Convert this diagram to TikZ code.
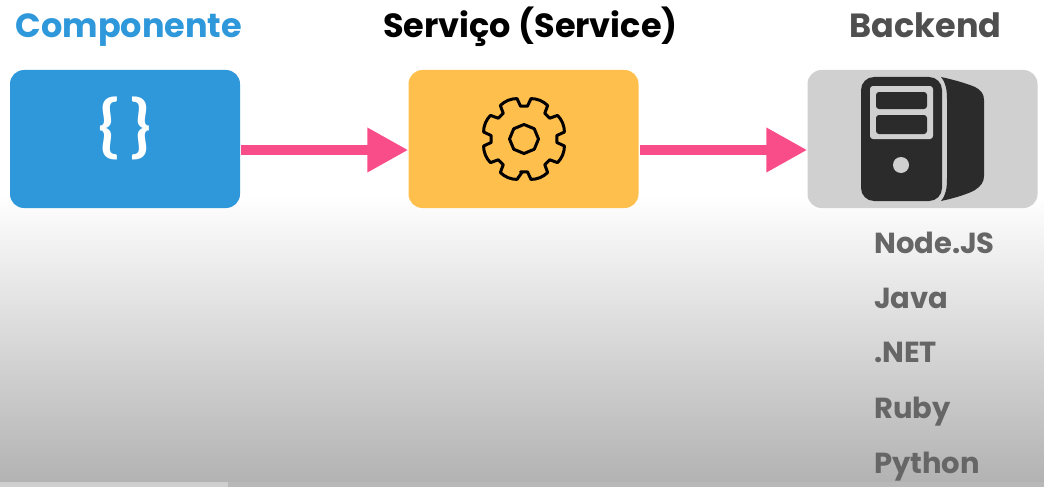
\documentclass[tikz,border=0pt]{standalone}
\usepackage{fontspec}
\setmainfont{Poppins}
\newfontfamily\bracefont{Lato}
\usetikzlibrary{arrows.meta}
\definecolor{blueC}{HTML}{2E98DB}
\definecolor{yellowC}{HTML}{FFBF4C}
\definecolor{greyC}{HTML}{D0D0D0}
\definecolor{pinkC}{HTML}{F94D8A}
\definecolor{darkC}{HTML}{2B2B2B}
\definecolor{titleC}{HTML}{4F4F4F}
\definecolor{listC}{HTML}{666666}
\tikzset{
  box/.style={rounded corners=14pt,minimum width=230pt,minimum height=138pt,inner sep=0pt,fill=#1},
  title/.style={anchor=base,font=\fontsize{33.5}{34}\selectfont\bfseries,inner sep=0pt},
  lang/.style={anchor=base west,font=\fontsize{29}{30}\selectfont\bfseries,text=listC,inner sep=0pt},
  conn/.style={draw=pinkC,line width=10pt,-{Triangle[length=41pt,width=42pt]},shorten <=1pt},
}
\begin{document}
\begin{tikzpicture}[x=1pt,y=-1pt]
\useasboundingbox (0,0) rectangle (1044,487);
\fill[white] (0,0) rectangle (1044,196);
\shade[top color=white,bottom color=black!30] (0,195) rectangle (1044,482);
\fill[black!28] (0,482) rectangle (1044,487);
\fill[black!19] (0,482) rectangle (228,487);

\node[box=blueC] (comp) at (125,139) {};
\node[box=yellowC] (svc) at (523.5,139) {};
\node[box=greyC] (back) at (922.5,139) {};

\node[title,text=blueC] (t1) at (129,38) {Componente};
\node[title,text=black] (t2) at (530.5,38) {Serviço (Service)};
\node[title,text=titleC] (t3) at (925.5,38) {Backend};

\node[lang] (l1) at (874,253) {Node.JS};
\node[lang] (l2) at (874,308) {Java};
\node[lang] (l3) at (874,362) {.NET};
\node[lang] (l4) at (874,418) {Ruby};
\node[lang] (l5) at (874,473) {Python};

\draw[conn] ([yshift=-11pt]comp.east) -- ([yshift=-11pt]svc.west);
\draw[conn] ([yshift=-11pt]svc.east) -- ([yshift=-11pt]back.west);

% braces
\node[text=white,inner sep=0pt,font=\bracefont\bfseries\fontsize{68}{68}\selectfont] (br) at (125,128) {\{\hspace{12pt}\}};

% gear
\begin{scope}[shift={(524,139)}]
\draw[line width=3pt,line join=round,black]
  (93:33) \foreach \a in {0,45,...,315}{
    -- ({\a+99.8}:41) -- ({\a+106}:41.6) -- ({\a+112.5}:41.8) -- ({\a+119}:41.6) -- ({\a+125.2}:41)
    -- ({\a+129}:33) -- ({\a+141}:33)
  } -- cycle;
\draw[line width=3pt,line join=round,black]
  (0:14.5) \foreach \a in {45,90,...,315}{ -- (\a:14.5)} -- cycle;
\end{scope}

% server
\fill[darkC,rounded corners=13pt] (861,77) rectangle (942,201);
\fill[greyC,rounded corners=3pt] (870,86) rectangle (933,139);
\fill[darkC,rounded corners=3pt] (876,92) rectangle (927,109);
\fill[darkC,rounded corners=3pt] (876,115) rectangle (927,134);
\fill[greyC] (901,165) circle (8pt);
\fill[darkC] (941,77) .. controls (946,83) and (947,90) .. (947,100)
  -- (947,178) .. controls (947,188) and (946,195) .. (941,201)
  .. controls (955,198) and (968,194) .. (975,190)
  .. controls (981,186) and (984,182) .. (984,176)
  -- (984,100) .. controls (984,94) and (981,90) .. (975,87)
  .. controls (968,84) and (955,80) .. (941,77) -- cycle;
\end{tikzpicture}
\end{document}
